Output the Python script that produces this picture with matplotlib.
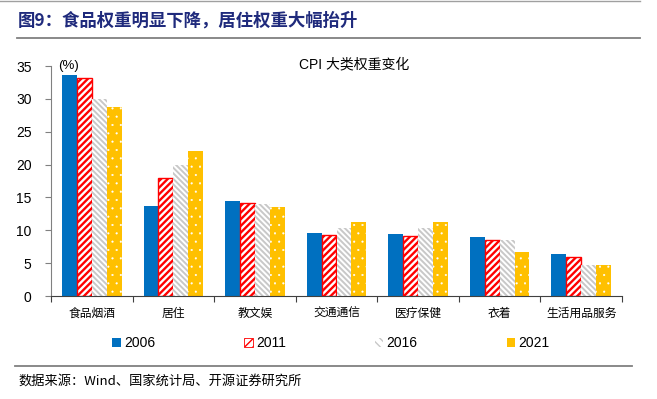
import matplotlib
matplotlib.use("Agg")
import matplotlib.pyplot as plt
from matplotlib.patches import Patch
from matplotlib.lines import Line2D
import numpy as np

plt.rcParams['font.family'] = ['Liberation Sans', 'Noto Sans CJK SC', 'DejaVu Sans']

categories = ['食品烟酒', '居住', '教文娱', '交通通信', '医疗保健', '衣着', '生活用品服务']
years = ['2006', '2011', '2016', '2021']
v2006 = [33.6, 13.7, 14.4, 9.6, 9.4, 9.0, 6.4]
v2011 = [33.2, 17.9, 14.1, 9.3, 9.1, 8.5, 5.9]
v2016 = [30.0, 20.0, 14.0, 10.3, 10.3, 8.5, 4.7]
v2021 = [28.7, 22.1, 13.6, 11.2, 11.2, 6.7, 4.7]
yticks = [0, 5, 10, 15, 20, 25, 30, 35]

title = '图9：食品权重明显下降，居住权重大幅抬升'
chart_title = 'CPI 大类权重变化'
source = '数据来源：Wind、国家统计局、开源证券研究所'

W, H = 657, 399
fig = plt.figure(figsize=(W / 100, H / 100), dpi=100)
ax = fig.add_axes([51 / W, 1 - 296 / H, (622 - 51) / W, (296 - 66) / H])

x = np.arange(len(categories))
bw = 0.183
offs = [-1.5 * bw, -0.5 * bw, 0.5 * bw, 1.5 * bw]

blue = '#0070C0'
red = '#FF0000'
gray = '#C8C8C8'
gold = '#FFC000'

hatch_red = '/////'
hatch_gray = '\\\\\\\\\\\\'
hatch_gold = '..'


def set_hlw(patches, lw):
    for p in patches:
        try:
            p.set_hatch_linewidth(lw)
        except AttributeError:
            pass


with plt.rc_context({'hatch.linewidth': 1.7}):
    ax.bar(x + offs[0], v2006, bw, color=blue, linewidth=0)
    b1 = ax.bar(x + offs[1], v2011, bw, facecolor='white', edgecolor=red, hatch=hatch_red, linewidth=1.0)
    b2 = ax.bar(x + offs[2], v2016, bw, facecolor='white', edgecolor=gray, hatch=hatch_gray, linewidth=0)
with plt.rc_context({'hatch.linewidth': 0.3}):
    b3 = ax.bar(x + offs[3], v2021, bw, facecolor=gold, edgecolor='white', hatch=hatch_gold, linewidth=0)
set_hlw(b1, 1.7)
set_hlw(b2, 1.4)
set_hlw(b3, 0.3)

ax.set_xlim(-0.5, len(categories) - 0.5)
ax.set_ylim(0, 35)
ax.set_yticks(yticks)
ax.set_yticklabels([str(t) for t in yticks], fontsize=10)
ax.tick_params(axis='y', direction='out', length=4, width=0.8, color='#808080', pad=10)
ax.set_xticks(x)
ax.set_xticklabels(categories, fontsize=8.5, family=['Noto Sans CJK SC'])
ax.set_xticks(np.arange(len(categories) + 1) - 0.5, minor=True)
ax.tick_params(axis='x', which='major', length=0, pad=8)
ax.tick_params(axis='x', which='minor', direction='out', length=4, width=0.8, color='#404040')

for s in ['top', 'right']:
    ax.spines[s].set_visible(False)
ax.spines['left'].set_color('#808080')
ax.spines['bottom'].set_color('#404040')
ax.spines['left'].set_linewidth(0.8)
ax.spines['bottom'].set_linewidth(0.8)

ax.text(0.012, 1.0, '(%)', transform=ax.transAxes, fontsize=9.5, ha='left', va='center')
fig.text(354 / W, 1 - 64 / H, chart_title, fontsize=10, ha='center', va='center',
         family=['Liberation Sans', 'Noto Sans CJK SC'])

# Legend
with plt.rc_context({'hatch.linewidth': 1.5}):
    handles = [
        Patch(facecolor=blue, edgecolor=blue, linewidth=0),
        Patch(facecolor='white', edgecolor=red, hatch='////', linewidth=0.6),
        Patch(facecolor='white', edgecolor=gray, hatch='\\\\\\\\', linewidth=0),
    ]
with plt.rc_context({'hatch.linewidth': 0.3}):
    handles.append(Patch(facecolor=gold, edgecolor='white', hatch='.', linewidth=0))
fig.legend(handles, years, loc='center', bbox_to_anchor=(331 / W, 1 - 343 / H), ncol=4,
           frameon=False, fontsize=10, handlelength=0.6, handleheight=0.6,
           handletextpad=0.25, columnspacing=6.4, borderaxespad=0)

# Title and rules
fig.text(18 / W, 1 - 21 / H, title, fontsize=12.5, fontweight='bold', color='#1F2A7C',
         ha='left', va='center', family=['Noto Sans CJK SC'])
fig.add_artist(Line2D([0, 640 / W], [1 - 1 / H, 1 - 1 / H], color='#A0A0A0', linewidth=1.0))
fig.add_artist(Line2D([17 / W, 640 / W], [1 - 38 / H, 1 - 38 / H], color='#808080', linewidth=1.3))
fig.add_artist(Line2D([15 / W, 632 / W], [1 - 366 / H, 1 - 366 / H], color='#808080', linewidth=1.3))
fig.text(18 / W, 1 - 381 / H, source, fontsize=9.5, ha='left', va='center',
         family=['Noto Sans CJK SC'])

fig.savefig('out.png', dpi=100)
